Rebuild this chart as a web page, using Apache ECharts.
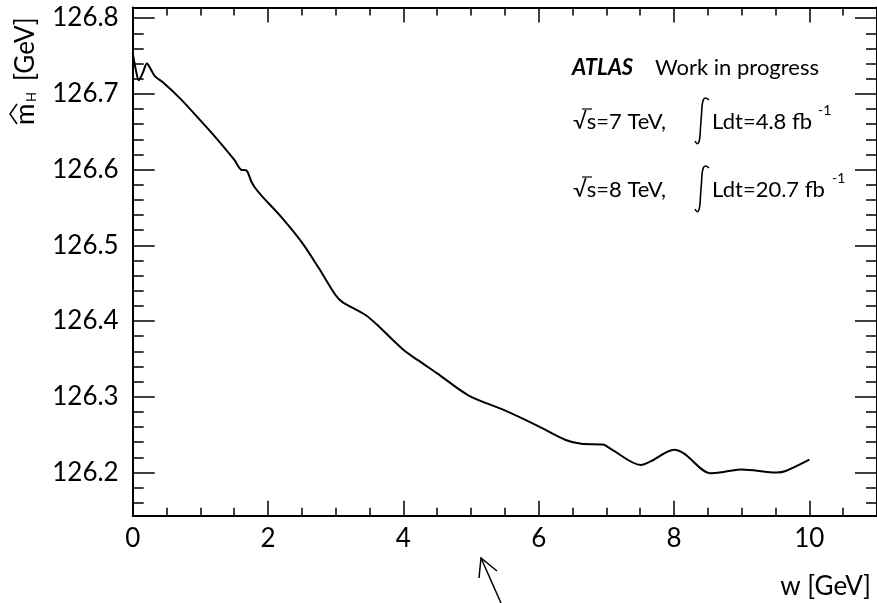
<!DOCTYPE html>
<html><head><meta charset="utf-8">
<script src="https://cdn.jsdelivr.net/npm/echarts@6/dist/echarts.min.js"></script>
<style>html,body{margin:0;padding:0;background:#fff}#c{width:877px;height:603px}</style>
</head><body><div id="c"></div>
<script>
// Scan width w [GeV]
const wValues = [0.0, 0.05, 0.09, 0.15, 0.21, 0.27, 0.33, 0.45, 0.7, 1.0, 1.25, 1.5, 1.6, 1.68, 1.75, 1.8, 1.9, 2.2, 2.5, 2.75, 3.0, 3.1, 3.44, 3.6, 4.0, 4.22, 4.5, 4.96, 5.5, 6.0, 6.4, 6.63, 6.95, 7.07, 7.51, 7.66, 8.0, 8.15, 8.54, 8.75, 9.0, 9.52, 9.65, 10.0];
// Fitted mass m_H [GeV]
const mHValues = [126.754, 126.730, 126.718, 126.728, 126.740, 126.732, 126.723, 126.715, 126.694, 126.665, 126.640, 126.613, 126.600, 126.599, 126.585, 126.577, 126.566, 126.537, 126.504, 126.470, 126.434, 126.425, 126.408, 126.396, 126.362, 126.348, 126.331, 126.302, 126.282, 126.261, 126.243, 126.238, 126.237, 126.231, 126.210, 126.215, 126.230, 126.225, 126.199, 126.201, 126.204, 126.200, 126.202, 126.217];
const xRange = [0, 11];
const yRange = [126.143, 126.814];
const xTickStep = 2;
const headerTexts = ['ATLAS', 'Work in progress'];
const lumiLines = [['\u221As=7 TeV,', 'Ldt=4.8 fb', '-1'], ['\u221As=8 TeV,', 'Ldt=20.7 fb', '-1']];
const xTitle = 'w [GeV]';

const FONT = 'Lato';
const chart = echarts.init(document.getElementById('c'), null, {renderer: 'canvas'});
const tickStyle = {color: '#000', width: 1.5};
const axisLineStyle = {color: '#000', width: 2};

function xAx(pos, showLabel) {
  return {
    type: 'value', position: pos, min: xRange[0], max: xRange[1], interval: xTickStep,
    axisLine: {show: true, onZero: false, lineStyle: axisLineStyle},
    axisTick: {show: true, inside: true, length: 15, lineStyle: tickStyle},
    minorTick: {show: true, splitNumber: 4, length: 8, lineStyle: tickStyle},
    splitLine: {show: false},
    axisLabel: {show: showLabel, fontFamily: FONT, fontSize: 26, color: '#000', margin: 10, showMaxLabel: false,
      formatter: v => String(v)}
  };
}
function yAx(pos, showLabel) {
  return {
    type: 'value', position: pos, min: yRange[0], max: yRange[1], splitNumber: 5,
    axisLine: {show: true, onZero: false, lineStyle: axisLineStyle},
    axisTick: {show: true, inside: true, length: 22, lineStyle: tickStyle},
    minorTick: {show: true, splitNumber: 5, length: 11, lineStyle: tickStyle},
    splitLine: {show: false},
    axisLabel: {show: showLabel, fontFamily: FONT, fontSize: 26, color: '#000', margin: 14,
      showMinLabel: false, showMaxLabel: false, formatter: v => v.toFixed(1)}
  };
}

const txt = (x, y, s, size, extra) => Object.assign({type: 'text', x: x, y: y, silent: true,
  style: Object.assign({text: s, fontFamily: FONT, fontSize: size, fill: '#000', textAlign: 'left', textVerticalAlign: 'middle'}, extra || {})});
const line = (pts, w) => ({type: 'polyline', silent: true, shape: {points: pts}, style: {stroke: '#000', lineWidth: w || 1.5, fill: null}});
const bez = (a, c1, c2, b) => ({type: 'bezierCurve', silent: true,
  shape: {x1: a[0], y1: a[1], cpx1: c1[0], cpy1: c1[1], cpx2: c2[0], cpy2: c2[1], x2: b[0], y2: b[1]},
  style: {stroke: '#000', lineWidth: 1.6, fill: null}});
const integral = (cx, cy) => ({type: 'group', x: cx, y: cy, silent: true, children: [
  bez([-6, 20], [-3, 26], [-1, 22], [-0.6, 8]),
  line([[-0.6, 8], [0.6, -8]], 1.6),
  bez([0.6, -8], [1, -22], [3, -26], [8, -21])
]});

const graphics = [];
// header
graphics.push(txt(572, 68, headerTexts[0], 22, {fontWeight: 'bold', fontStyle: 'italic'}));
graphics.push(txt(655, 68, headerTexts[1], 22));
const lineY = [122, 190];
const supX = [818, 832];
lumiLines.forEach((l, i) => {
  const y = lineY[i];
  graphics.push(txt(573, y, l[0], 22));
  graphics.push(line([[582, y - 13], [592, y - 13]], 1.2));
  graphics.push(integral(701, y - 1));
  graphics.push(txt(712, y, l[1], 22));
  graphics.push(txt(supX[i], y - 12, l[2], 14));
});
// x-axis title
graphics.push(txt(871, 587, xTitle, 26, {textAlign: 'right'}));
// y-axis title (rotated)
graphics.push({
  type: 'group', x: 27, y: 125, rotation: Math.PI / 2, silent: true,
  children: [
    txt(0, -1, 'm', 26),
    line([[1, -10], [11, -17], [21, -10]], 1.5),
    txt(23, 5, 'H', 13),
    txt(44, -1, '[GeV]', 26)
  ]
});
// stray arrow below the axis
graphics.push(line([[501, 603], [481, 558]], 1.5));
graphics.push(line([[479, 578], [481, 558], [497, 571]], 1.5));

chart.setOption({
  animation: false,
  backgroundColor: '#fff',
  grid: {left: 132.7, right: -3.7, top: 7.5, bottom: 87.3, containLabel: false},
  xAxis: [xAx('bottom', true), xAx('top', false)],
  yAxis: [yAx('left', true), yAx('right', false)],
  series: [{
    type: 'line', xAxisIndex: 0, yAxisIndex: 0,
    data: wValues.map((w, i) => [w, mHValues[i]]),
    showSymbol: false, smooth: 0.3,
    lineStyle: {color: '#000', width: 2}
  }],
  graphic: graphics
});
</script></body></html>
